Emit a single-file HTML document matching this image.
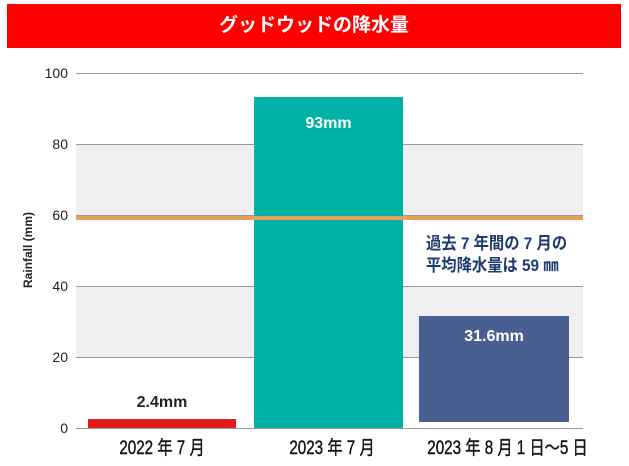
<!DOCTYPE html>
<html><head><meta charset="utf-8"><style>
body{margin:0;width:629px;height:466px;background:#fff;position:relative;overflow:hidden;font-family:"Liberation Sans","Noto Sans CJK JP",sans-serif}
div{position:absolute}
.t{font-size:14px;color:#222;text-align:right;width:40px;left:28px}
.g{left:76px;width:507px;height:1px;background:#999}
.band{left:76px;width:507px;background:#f0f0f2}
.xl{top:433px;font-size:19px;color:#111;transform:scaleX(0.8);transform-origin:center;text-align:center;white-space:nowrap;-webkit-text-stroke:0.4px #111}
.v{color:#fff;font-weight:bold;font-size:16px;text-align:center}
</style></head><body>
<div style="left:7px;top:4px;width:614px;height:44px;background:#ff0000;color:#fff;font-weight:bold;font-size:19px;text-align:center;line-height:44px">グッドウッドの降水量</div>
<div class="band" style="top:144px;height:71px"></div>
<div class="band" style="top:286px;height:71px"></div>
<div class="g" style="top:73px"></div>
<div class="g" style="top:144px"></div>
<div class="g" style="top:215px"></div>
<div class="g" style="top:286px"></div>
<div class="g" style="top:357px"></div>
<div class="g" style="top:428px"></div>
<div class="t" style="top:65px">100</div>
<div class="t" style="top:136px">80</div>
<div class="t" style="top:207px">60</div>
<div class="t" style="top:278px">40</div>
<div class="t" style="top:349px">20</div>
<div class="t" style="top:420px">0</div>
<div style="left:-12px;top:243px;width:80px;font-size:12px;font-weight:bold;color:#222;transform:rotate(-90deg);text-align:center">Rainfall (mm)</div>
<div style="left:88px;top:419px;width:148px;height:9px;background:#e31b1b"></div>
<div style="left:88px;top:394px;width:148px;font-size:16px;font-weight:bold;color:#222;text-align:center">2.4mm</div>
<div style="left:254px;top:97px;width:149px;height:331px;background:#00b2a6"></div>
<div class="v" style="left:254px;top:115px;width:149px">93mm</div>
<div style="left:419px;top:316px;width:150px;height:106px;background:#4a5f91"></div>
<div class="v" style="left:419px;top:328px;width:150px">31.6mm</div>
<div style="left:76px;top:216px;width:507px;height:4px;background:#e5a05c"></div>
<div style="left:426px;top:233px;font-size:17px;font-weight:bold;color:#1d3b6e;line-height:22px;white-space:nowrap;transform:scaleX(0.9);transform-origin:left">過去 7 年間の 7 月の<br>平均降水量は 59 ㎜</div>
<div class="xl" style="left:82px;width:160px">2022 年 7 月</div>
<div class="xl" style="left:252px;width:160px">2023 年 7 月</div>
<div class="xl" style="left:400px;width:215px">2023 年 8 月 1 日～5 日</div>
</body></html>
